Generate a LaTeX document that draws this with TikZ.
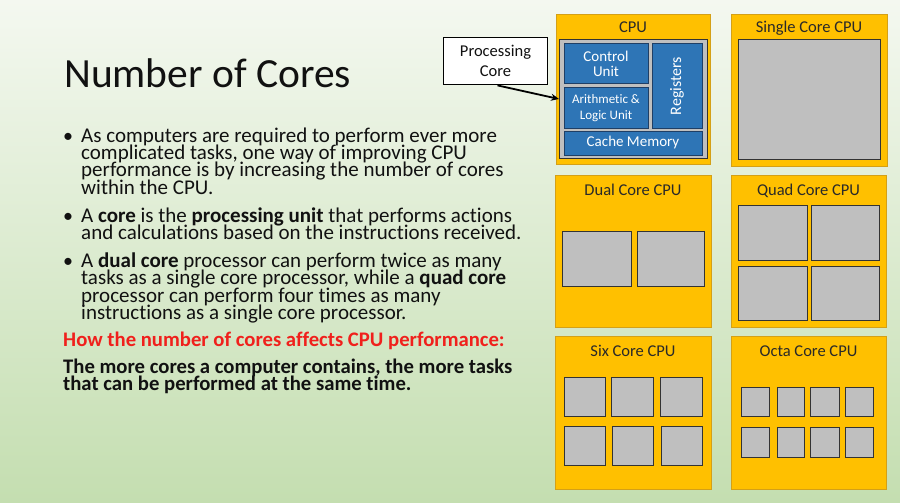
\documentclass[tikz,border=0pt]{standalone}
\usepackage{fontspec}
\setmainfont{Carlito}[Ligatures={NoCommon}]
\usetikzlibrary{arrows.meta}
\definecolor{cpuyel}{HTML}{FFC000}
\definecolor{cpuedge}{HTML}{D4A017}
\definecolor{coregray}{HTML}{BFBFBF}
\definecolor{coreedge}{HTML}{333333}
\definecolor{unitblue}{HTML}{2E75B6}
\definecolor{unitedge}{HTML}{1F3F66}
\definecolor{bgtop}{HTML}{F4F8F0}
\definecolor{bgbot}{HTML}{C4DEB0}
\definecolor{headred}{HTML}{F0201C}
\definecolor{txt}{HTML}{111111}
\newcommand\parlines[2]{\parbox[t]{470pt}{\raggedright\fontsize{#1}{17.5}\selectfont\lineskiplimit=-100pt\relax #2}}
\tikzset{
  chip/.style={draw=cpuedge, line width=0.8pt, fill=cpuyel},
  core/.style={draw=coreedge, line width=1pt, fill=coregray},
  unit/.style={draw=unitedge, line width=1pt, fill=unitblue, text=white, align=center, inner sep=0pt},
  chiptitle/.style={font=\fontsize{16.5}{18}\selectfont, text=txt!90!white, anchor=base},
  para/.style={anchor=base west, inner sep=0pt, text=txt},
  bul/.style={anchor=base west, inner sep=0pt, font=\fontsize{20}{20}\selectfont, text=txt},
}
\begin{document}
\begin{tikzpicture}[x=1pt,y=-1pt]
\useasboundingbox (0,0) rectangle (900,503);
\shade[top color=bgtop, bottom color=bgbot] (0,0) rectangle (900,503);

% title
\node[anchor=base west, inner sep=0pt, font=\fontsize{41.5}{44}\selectfont, text=txt] (title) at (64,88) {Number of Cores};

% bullets
\node[bul] (b1) at (63,142) {•};
\node[para] (p1) at (81,142) {\parlines{21}{As computers are required to perform ever more\\
complicated tasks, one way of improving CPU\\
performance is by increasing the number of cores\\
within the CPU.}};
\node[bul] (b2) at (63,222) {•};
\node[para] (p2) at (81,222) {\parlines{21}{A \textbf{core} is the \textbf{processing unit} that performs actions\\
and calculations based on the instructions received.}};
\node[bul] (b3) at (63,267) {•};
\node[para] (p3) at (81,267) {\parlines{21}{A \textbf{dual core} processor can perform twice as many\\
tasks as a single core processor, while a \textbf{quad core}\\
processor can perform four times as many\\
instructions as a single core processor.}};

\node[para, text=headred, font=\bfseries] (red) at (63,346) {\parlines{20.7}{How the number of cores affects CPU performance:}};
\node[para, font=\bfseries] (k1) at (63,373) {\parlines{20.7}{The more cores a computer contains, the more tasks\\
that can be performed at the same time.}};

% ---- CPU detail
\draw[chip] (556,14) rectangle (710,164);
\node[chiptitle] (t0) at (633,33) {CPU};
\node[core, minimum width=148pt, minimum height=118pt, inner sep=0pt] (inner) at (633.5,99) {};
\node[unit, minimum width=84pt, minimum height=40pt, font=\fontsize{15}{14.5}\selectfont] (cu) at (606,64) {Control\\Unit};
\node[unit, minimum width=84pt, minimum height=40pt, font=\fontsize{13}{16}\selectfont] (alu) at (606,108) {Arithmetic \&\\Logic Unit};
\node[unit, minimum width=50pt, minimum height=84pt] (reg) at (677,86) {};
\node[text=white, rotate=90, font=\fontsize{16}{18}\selectfont, inner sep=0pt] (regt) at (reg.center) {Registers};
\node[unit, minimum width=138pt, minimum height=24pt, font=\fontsize{15}{18}\selectfont] (cache) at (633,143) {Cache Memory};

\node[draw=black, line width=1.8pt, fill=white, minimum width=104pt, minimum height=47pt, align=center, inner sep=0pt, font=\fontsize{16.5}{20}\selectfont, text=txt] (pc) at (495.5,61) {Processing\\Core};
\coordinate (pcs) at ([xshift=2pt]pc.south);
\draw[line width=1.8pt, -{Stealth[length=8pt,width=7pt]}] (pcs) -- (inner.west);

% ---- Single core
\draw[chip] (731,14) rectangle (887,166);
\node[chiptitle] (t1) at (809,33) {Single Core CPU};
\draw[core] (738,40) rectangle (880,159);

% ---- Dual core
\draw[chip] (555,175) rectangle (711,327);
\node[chiptitle] (t2) at (633,195) {Dual Core CPU};
\draw[core] (562,231) rectangle (631,286);
\draw[core] (637,231) rectangle (704,286);

% ---- Quad core
\draw[chip] (731,175) rectangle (886,327);
\node[chiptitle] (t3) at (808.5,195) {Quad Core CPU};
\draw[core] (738,205) rectangle (807,260);
\draw[core] (811,205) rectangle (879,260);
\draw[core] (738,266) rectangle (807,320);
\draw[core] (811,266) rectangle (879,320);

% ---- Six core
\draw[chip] (555,336) rectangle (711,489);
\node[chiptitle] (t4) at (633,356) {Six Core CPU};
\draw[core] (564,377) rectangle (605,416);
\draw[core] (611,377) rectangle (653,416);
\draw[core] (660,377) rectangle (702,416);
\draw[core] (564,426) rectangle (605,465);
\draw[core] (612,426) rectangle (653,465);
\draw[core] (661,426) rectangle (702,465);

% ---- Octa core
\draw[chip] (731,336) rectangle (886,489);
\node[chiptitle] (t5) at (808.5,356) {Octa Core CPU};
\foreach \x/\w in {741/769,777/804,810/839,845/873}{
  \draw[core] (\x,387) rectangle (\w,416);
  \draw[core] (\x,427) rectangle (\w,457);
}
\end{tikzpicture}
\end{document}
